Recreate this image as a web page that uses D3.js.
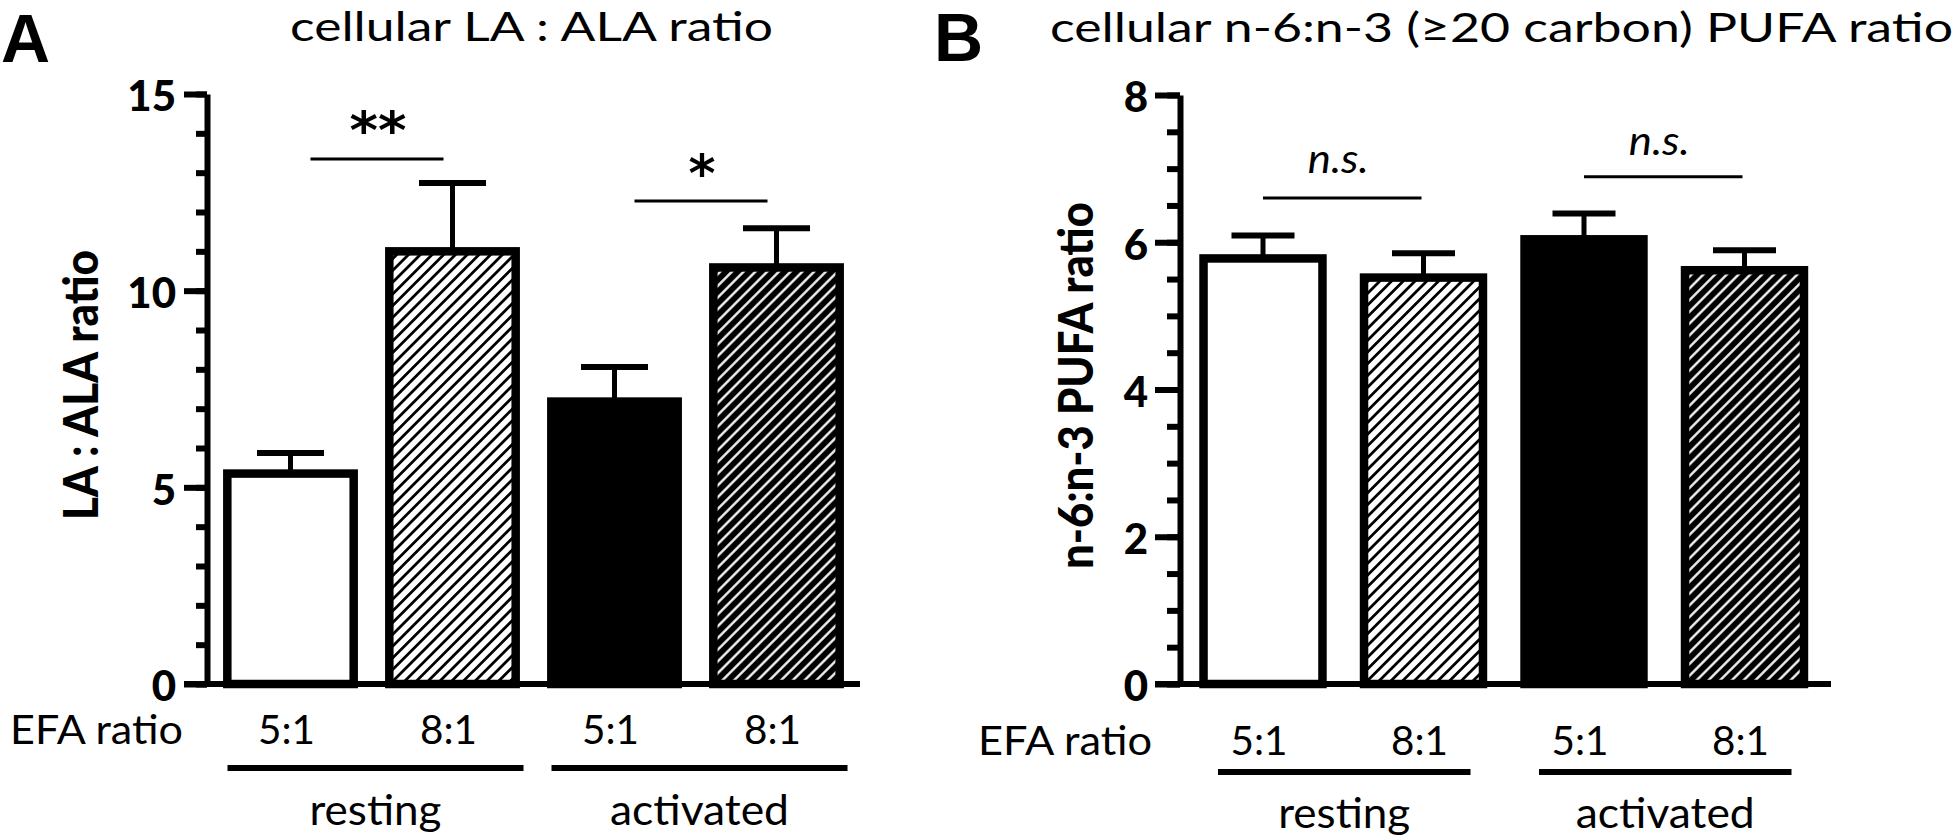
<!DOCTYPE html>
<html>
<head>
<meta charset="utf-8">
<script src="https://cdn.jsdelivr.net/npm/d3@7"></script>
<style>
  html, body { margin: 0; padding: 0; background: #ffffff; }
  svg { display: block; font-family: Lato, "Open Sans", "DejaVu Sans", sans-serif; }
</style>
</head>
<body>
<svg id="chart" width="1958" height="839"></svg>
<script>
// ---------------- data ----------------
const categories = ["resting 5:1", "resting 8:1", "activated 5:1", "activated 8:1"];
const efaLabels = ["5:1", "8:1", "5:1", "8:1"];
const groupNames = ["resting", "activated"];
const groupMembers = [[0, 1], [2, 3]];
const barFills = ["white", "hatchLight", "black", "hatchDark"];

// Panel A: cellular LA : ALA ratio
const laAlaMean = [5.35, 11.0, 7.18, 10.59];
const laAlaSem  = [0.52, 1.74, 0.88, 1.00];
const laAlaTicks = [0, 5, 10, 15];
const laAlaMinorStep = 1;
const laAlaSig = [
  { a: 0, b: 1, label: "**", level: 13.35 },
  { a: 2, b: 3, label: "*",  level: 12.28 }
];

// Panel B: cellular n-6:n-3 (>=20 carbon) PUFA ratio
const pufaMean = [5.78, 5.52, 6.04, 5.62];
const pufaSem  = [0.31, 0.33, 0.35, 0.27];
const pufaTicks = [0, 2, 4, 6, 8];
const pufaMinorStep = 0.5;
const pufaSig = [
  { a: 0, b: 1, label: "n.s.", level: 6.60 },
  { a: 2, b: 3, label: "n.s.", level: 6.89 }
];

// ---------------- layout ----------------
const panels = [
  {
    letter: "A", letterX: 1, letterY: 62,
    title: "cellular LA : ALA ratio", titleX: 290, titleY: 41, titleW: 483,
    yLabel: "LA : ALA ratio", yLabelX: 98, yLabelLen: 270,
    axisX: 207, yTop: 94, yBottom: 684, yMax: 15,
    ticks: laAlaTicks, minorStep: laAlaMinorStep,
    xRange: [209.5, 857.5], padInner: 0.22, padOuter: 0.11,
    xAxisEnd: 860, majorTick: 23, minorTick: 11, tickPad: 8,
    capW: 67,
    mean: laAlaMean, sem: laAlaSem, sig: laAlaSig,
    sigOff: [20, -9], sigTextOff: [11, 10], sigTextDx: 1, sigFont: 52,
    sigFamily: "'DejaVu Sans', sans-serif", sigStyle: "normal", sigWeight: "bold", sigW: [57, 27],
    efaX: 10, efaW: 173, labelY: 744, underY: 768, underExt: [-63, 71], groupY: 825
  },
  {
    letter: "B", letterX: 934, letterY: 61,
    title: "cellular n-6:n-3 (\u226520 carbon) PUFA ratio", titleX: 1050, titleY: 42, titleW: 903,
    yLabel: "n-6:n-3 PUFA ratio", yLabelX: 1093, yLabelLen: 367,
    axisX: 1180, yTop: 95, yBottom: 684, yMax: 8,
    ticks: pufaTicks, minorStep: pufaMinorStep,
    xRange: [1182.75, 1824.75], padInner: 0.259, padOuter: 0.1295,
    xAxisEnd: 1831, majorTick: 25, minorTick: 13, tickPad: 7,
    capW: 63,
    mean: pufaMean, sem: pufaSem, sig: pufaSig,
    sigOff: [0, -2], sigTextOff: [25, 22], sigTextDx: -4, sigFont: 40,
    sigFamily: null, sigStyle: "italic", sigWeight: "normal", sigW: [61, 61],
    efaX: 978, efaW: 174, labelY: 755, underY: 772, underExt: [-45, 47], groupY: 828
  }
];

// ---------------- drawing ----------------
const svg = d3.select("#chart");
svg.append("rect").attr("width", 1958).attr("height", 839).attr("fill", "#fff");
const defs = svg.append("defs");

function hatch(id, bg, fg, lw) {
  const s = 8.3;
  const p = defs.append("pattern")
    .attr("id", id)
    .attr("patternUnits", "userSpaceOnUse")
    .attr("width", s).attr("height", s)
    .attr("patternTransform", "rotate(45)");
  p.append("rect").attr("width", s).attr("height", s).attr("fill", bg);
  p.append("line").attr("x1", s / 2).attr("x2", s / 2).attr("y1", -1).attr("y2", s + 1)
    .attr("stroke", fg).attr("stroke-width", lw);
}
hatch("hatchLight", "#fff", "#000", 2.8);
hatch("hatchDark", "#000", "#fff", 2.3);

function fillOf(f) { return f.startsWith("hatch") ? `url(#${f})` : f; }

panels.forEach(P => {
  const g = svg.append("g");

  const y = d3.scaleLinear().domain([0, P.yMax]).range([P.yBottom, P.yTop]);
  const x = d3.scaleBand().domain(categories).range(P.xRange)
    .paddingInner(P.padInner).paddingOuter(P.padOuter);
  const bw = x.bandwidth();
  const cx = i => x(categories[i]) + bw / 2;

  // minor ticks
  const minor = d3.range(0, P.yMax + 1e-9, P.minorStep);
  const minorAxis = g.append("g")
    .attr("transform", `translate(${P.axisX},0)`)
    .call(d3.axisLeft(y).tickValues(minor).tickSize(P.minorTick).tickSizeOuter(0).tickFormat(""));
  minorAxis.selectAll("line, path").attr("stroke", "#000").attr("stroke-width", 6);

  // major ticks with labels
  const majorAxis = g.append("g")
    .attr("transform", `translate(${P.axisX},0)`)
    .call(d3.axisLeft(y).tickValues(P.ticks).tickSize(P.majorTick).tickSizeOuter(0).tickPadding(P.tickPad).tickFormat(d3.format("d")));
  majorAxis.attr("font-family", null).attr("font-size", null);
  majorAxis.select(".domain").remove();
  majorAxis.selectAll("line").attr("stroke", "#000").attr("stroke-width", 6);
  majorAxis.selectAll("text")
    .attr("fill", "#000")
    .attr("font-size", 42).attr("font-weight", "900")
    .attr("dy", "0.40em");

  // x-axis baseline
  g.append("line")
    .attr("x1", P.axisX - P.majorTick).attr("x2", P.xAxisEnd)
    .attr("y1", y(0)).attr("y2", y(0))
    .attr("stroke", "#000").attr("stroke-width", 6);

  // error bars
  P.mean.forEach((m, i) => {
    const top = y(m + P.sem[i]);
    g.append("line").attr("x1", cx(i)).attr("x2", cx(i)).attr("y1", y(m)).attr("y2", top)
      .attr("stroke", "#000").attr("stroke-width", 5);
    g.append("line").attr("x1", cx(i) - P.capW / 2).attr("x2", cx(i) + P.capW / 2)
      .attr("y1", top).attr("y2", top)
      .attr("stroke", "#000").attr("stroke-width", 6);
  });

  // bars
  g.selectAll("rect.bar").data(P.mean).join("rect")
    .attr("class", "bar")
    .attr("x", (d, i) => x(categories[i]))
    .attr("width", bw)
    .attr("y", d => y(d))
    .attr("height", d => y(0) - y(d))
    .attr("fill", (d, i) => fillOf(barFills[i]))
    .attr("stroke", "#000").attr("stroke-width", 8.5);

  // significance brackets
  P.sig.forEach((s, k) => {
    const x1 = cx(s.a) + P.sigOff[0], x2 = cx(s.b) + P.sigOff[1];
    const ly = y(s.level);
    g.append("line").attr("x1", x1).attr("x2", x2).attr("y1", ly).attr("y2", ly)
      .attr("stroke", "#000").attr("stroke-width", 3);
    const t = g.append("text")
      .attr("x", (x1 + x2) / 2 + P.sigTextDx).attr("y", ly - P.sigTextOff[k])
      .attr("text-anchor", "middle")
      .attr("font-size", P.sigFont).attr("font-weight", P.sigWeight).attr("font-style", P.sigStyle)
      .attr("textLength", P.sigW[k]).attr("lengthAdjust", "spacingAndGlyphs")
      .text(s.label);
    if (P.sigFamily) t.style("font-family", P.sigFamily);
  });

  // EFA ratio row
  g.append("text").attr("x", P.efaX).attr("y", P.labelY)
    .attr("font-size", 41)
    .attr("textLength", P.efaW).attr("lengthAdjust", "spacingAndGlyphs")
    .text("EFA ratio");
  efaLabels.forEach((t, i) => {
    g.append("text").attr("x", cx(i) - 4).attr("y", P.labelY)
      .attr("text-anchor", "middle").attr("font-size", 41)
      .attr("textLength", 57).attr("lengthAdjust", "spacingAndGlyphs")
      .text(t);
  });

  // group underlines + names
  groupNames.forEach((name, gi) => {
    const [a, b] = groupMembers[gi];
    const ux1 = cx(a) + P.underExt[0], ux2 = cx(b) + P.underExt[1];
    g.append("line").attr("x1", ux1).attr("x2", ux2).attr("y1", P.underY).attr("y2", P.underY)
      .attr("stroke", "#000").attr("stroke-width", 6);
    g.append("text").attr("x", (ux1 + ux2) / 2).attr("y", P.groupY)
      .attr("text-anchor", "middle").attr("font-size", 42)
      .attr("textLength", name === "resting" ? 132 : 179).attr("lengthAdjust", "spacingAndGlyphs")
      .text(name);
  });

  // y label
  g.append("text")
    .attr("transform", `translate(${P.yLabelX},${(P.yTop + P.yBottom) / 2 - 4}) rotate(-90)`)
    .attr("text-anchor", "middle")
    .attr("font-size", 48).attr("font-weight", "900")
    .attr("textLength", P.yLabelLen).attr("lengthAdjust", "spacingAndGlyphs")
    .text(P.yLabel);

  // title
  g.append("text").attr("x", P.titleX).attr("y", P.titleY)
    .attr("font-size", 40.5)
    .attr("textLength", P.titleW).attr("lengthAdjust", "spacingAndGlyphs")
    .text(P.title);

  // panel letter
  g.append("text").attr("x", P.letterX).attr("y", P.letterY)
    .style("font-family", "'Liberation Sans', Arial, sans-serif")
    .attr("font-size", 68).attr("font-weight", "bold")
    .text(P.letter);
});
</script>
</body>
</html>
